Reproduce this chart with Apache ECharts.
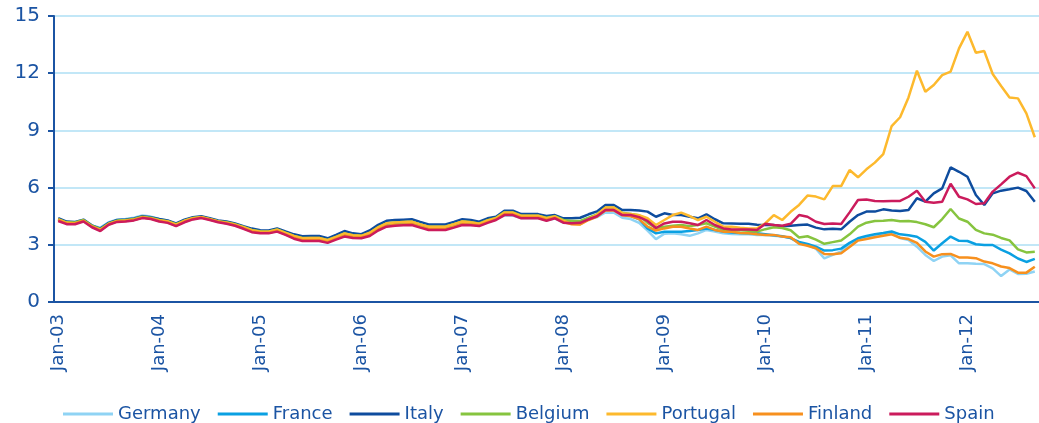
<!DOCTYPE html>
<html>
<head>
<meta charset="utf-8">
<title>10-year government bond yields</title>
<script src="https://cdn.jsdelivr.net/npm/echarts@6.0.0/dist/echarts.min.js"></script>
<style>
html, body { margin: 0; padding: 0; background: #fff; }
#main { width: 1039px; height: 423px; }
</style>
</head>
<body>
<div id="main"></div>
<script>
// monthly data, Jan-03 .. Sep-12
var months = ['Jan', 'Feb', 'Mar', 'Apr', 'May', 'Jun', 'Jul', 'Aug', 'Sep', 'Oct', 'Nov', 'Dec'];
var years = ['03', '04', '05', '06', '07', '08', '09', '10', '11', '12'];
var lastMonth = 9; // Sep-12

var yTicks = [0, 3, 6, 9, 12, 15];

var germany = [
  4.33, 4.15, 4.16, 4.27, 4.00, 3.90, 4.18, 4.32, 4.35, 4.42,
  4.54, 4.48, 4.36, 4.26, 4.08, 4.28, 4.42, 4.46, 4.36, 4.22,
  4.16, 4.05, 3.90, 3.74, 3.66, 3.65, 3.76, 3.60, 3.42, 3.30,
  3.31, 3.30, 3.20, 3.38, 3.55, 3.45, 3.42, 3.57, 3.87, 4.07,
  4.12, 4.13, 4.15, 4.00, 3.88, 3.88, 3.88, 4.00, 4.14, 4.12,
  4.05, 4.22, 4.34, 4.55, 4.53, 4.40, 4.40, 4.40, 4.28, 4.38,
  4.16, 4.14, 4.15, 4.32, 4.45, 4.70, 4.68, 4.42, 4.35, 4.15,
  3.75, 3.30, 3.58, 3.60, 3.55, 3.47, 3.60, 3.78, 3.70, 3.60,
  3.57, 3.55, 3.55, 3.52, 3.52, 3.47, 3.43, 3.35, 3.08, 2.99,
  2.80, 2.29, 2.47, 2.66, 2.99, 3.30, 3.38, 3.45, 3.55, 3.62,
  3.35, 3.25, 2.90, 2.47, 2.15, 2.38, 2.45, 2.03, 2.03, 2.00,
  1.99, 1.76, 1.36, 1.71, 1.47, 1.48, 1.60
];
var france = [
  4.32, 4.15, 4.14, 4.27, 3.97, 3.80, 4.12, 4.26, 4.28, 4.34,
  4.46, 4.41, 4.29, 4.22, 4.05, 4.25, 4.39, 4.45, 4.35, 4.23,
  4.16, 4.06, 3.91, 3.75, 3.68, 3.67, 3.77, 3.61, 3.44, 3.33,
  3.33, 3.33, 3.22, 3.40, 3.58, 3.48, 3.45, 3.60, 3.90, 4.10,
  4.15, 4.17, 4.19, 4.05, 3.93, 3.93, 3.93, 4.05, 4.19, 4.16,
  4.08, 4.26, 4.38, 4.66, 4.66, 4.49, 4.49, 4.49, 4.38, 4.46,
  4.26, 4.22, 4.22, 4.40, 4.55, 4.85, 4.85, 4.58, 4.52, 4.35,
  3.86, 3.60, 3.68, 3.69, 3.69, 3.72, 3.78, 3.86, 3.78, 3.69,
  3.65, 3.62, 3.60, 3.60, 3.55, 3.50, 3.45, 3.35, 3.15, 3.05,
  2.90, 2.70, 2.72, 2.80, 3.10, 3.34, 3.46, 3.55, 3.62, 3.70,
  3.55, 3.50, 3.42, 3.15, 2.70, 3.08, 3.43, 3.21, 3.20, 3.03,
  2.99, 2.99, 2.75, 2.55, 2.28, 2.10, 2.26
];
var italy = [
  4.40, 4.22, 4.20, 4.32, 4.02, 3.85, 4.15, 4.30, 4.33, 4.38,
  4.50, 4.45, 4.35, 4.28, 4.12, 4.32, 4.45, 4.50, 4.40, 4.28,
  4.22, 4.12, 3.98, 3.85, 3.76, 3.75, 3.86, 3.70, 3.55, 3.45,
  3.46, 3.46, 3.34, 3.52, 3.72, 3.60, 3.56, 3.75, 4.05, 4.26,
  4.30, 4.32, 4.34, 4.20, 4.07, 4.07, 4.07, 4.20, 4.34, 4.30,
  4.21, 4.39, 4.47, 4.79, 4.79, 4.61, 4.61, 4.61, 4.51, 4.56,
  4.39, 4.39, 4.42, 4.60, 4.75, 5.09, 5.09, 4.82, 4.82, 4.80,
  4.74, 4.47, 4.65, 4.56, 4.56, 4.47, 4.39, 4.60, 4.34, 4.13,
  4.12, 4.10, 4.10, 4.05, 4.04, 4.04, 3.97, 4.00, 4.04, 4.06,
  3.90, 3.81, 3.84, 3.81, 4.21, 4.56, 4.74, 4.74, 4.86, 4.80,
  4.77, 4.83, 5.44, 5.26, 5.70, 5.96, 7.06, 6.83, 6.57, 5.61,
  5.09, 5.70, 5.84, 5.91, 6.00, 5.82, 5.26
];
var belgium = [
  4.35, 4.18, 4.17, 4.30, 4.00, 3.82, 4.12, 4.27, 4.30, 4.35,
  4.47, 4.42, 4.30, 4.24, 4.08, 4.27, 4.41, 4.46, 4.36, 4.24,
  4.18, 4.08, 3.94, 3.78, 3.71, 3.70, 3.80, 3.64, 3.47, 3.36,
  3.36, 3.36, 3.25, 3.42, 3.60, 3.50, 3.47, 3.62, 3.92, 4.12,
  4.17, 4.19, 4.21, 4.07, 3.95, 3.95, 3.96, 4.08, 4.22, 4.19,
  4.12, 4.29, 4.41, 4.70, 4.70, 4.53, 4.53, 4.53, 4.42, 4.50,
  4.30, 4.25, 4.25, 4.42, 4.60, 4.95, 4.95, 4.68, 4.62, 4.55,
  4.15, 3.88, 3.95, 4.00, 4.04, 3.98, 4.04, 4.13, 3.95, 3.78,
  3.78, 3.76, 3.74, 3.69, 3.82, 3.92, 3.88, 3.76, 3.38, 3.45,
  3.27, 3.05, 3.14, 3.23, 3.55, 3.95, 4.16, 4.25, 4.26, 4.30,
  4.23, 4.25, 4.19, 4.08, 3.92, 4.35, 4.88, 4.38, 4.21, 3.78,
  3.60, 3.53, 3.36, 3.23, 2.76, 2.60, 2.63
];
var portugal = [
  4.33, 4.15, 4.13, 4.25, 3.95, 3.79, 4.09, 4.24, 4.27, 4.31,
  4.43, 4.38, 4.29, 4.22, 4.06, 4.26, 4.39, 4.44, 4.34, 4.22,
  4.16, 4.06, 3.92, 3.77, 3.69, 3.68, 3.79, 3.62, 3.46, 3.35,
  3.36, 3.36, 3.24, 3.42, 3.60, 3.50, 3.47, 3.63, 3.92, 4.13,
  4.17, 4.19, 4.21, 4.07, 3.95, 3.95, 3.95, 4.08, 4.22, 4.18,
  4.10, 4.28, 4.39, 4.69, 4.69, 4.52, 4.52, 4.52, 4.40, 4.48,
  4.26, 4.10, 4.08, 4.35, 4.58, 4.95, 4.95, 4.66, 4.62, 4.55,
  4.39, 4.04, 4.30, 4.56, 4.69, 4.51, 4.30, 4.47, 4.21, 3.95,
  3.95, 3.90, 3.86, 3.86, 4.13, 4.56, 4.30, 4.73, 5.09, 5.58,
  5.53, 5.38, 6.08, 6.08, 6.92, 6.54, 6.96, 7.31, 7.76, 9.23,
  9.69, 10.73, 12.13, 11.03, 11.38, 11.90, 12.08, 13.30, 14.17, 13.07,
  13.16, 11.96, 11.33, 10.73, 10.68, 9.89, 8.64
];
var finland = [
  4.29, 4.12, 4.12, 4.26, 3.96, 3.76, 4.08, 4.23, 4.25, 4.31,
  4.43, 4.38, 4.25, 4.18, 4.00, 4.21, 4.36, 4.43, 4.33, 4.21,
  4.13, 4.03, 3.87, 3.70, 3.63, 3.63, 3.72, 3.55, 3.36, 3.24,
  3.24, 3.24, 3.14, 3.31, 3.47, 3.40, 3.38, 3.50, 3.79, 3.99,
  4.04, 4.06, 4.08, 3.94, 3.82, 3.82, 3.82, 3.94, 4.08, 4.06,
  4.02, 4.19, 4.33, 4.60, 4.60, 4.43, 4.43, 4.43, 4.31, 4.42,
  4.20, 4.08, 4.07, 4.30, 4.48, 4.80, 4.80, 4.55, 4.50, 4.35,
  3.95, 3.75, 3.86, 3.95, 3.95, 3.86, 3.78, 3.95, 3.78, 3.69,
  3.69, 3.62, 3.60, 3.55, 3.52, 3.52, 3.43, 3.39, 3.05, 2.95,
  2.82, 2.52, 2.50, 2.56, 2.88, 3.22, 3.30, 3.40, 3.48, 3.55,
  3.37, 3.30, 3.10, 2.65, 2.38, 2.51, 2.52, 2.34, 2.34, 2.30,
  2.12, 2.03, 1.86, 1.78, 1.54, 1.54, 1.85
];
var spain = [
  4.25, 4.08, 4.08, 4.22, 3.92, 3.72, 4.05, 4.20, 4.22, 4.28,
  4.40, 4.35, 4.22, 4.15, 3.98, 4.18, 4.33, 4.40, 4.30, 4.18,
  4.10, 4.00, 3.84, 3.66, 3.60, 3.60, 3.69, 3.52, 3.32, 3.20,
  3.20, 3.20, 3.10, 3.27, 3.43, 3.36, 3.34, 3.46, 3.75, 3.95,
  4.00, 4.02, 4.04, 3.90, 3.78, 3.78, 3.78, 3.90, 4.04, 4.02,
  3.98, 4.15, 4.30, 4.56, 4.56, 4.39, 4.39, 4.39, 4.26, 4.39,
  4.16, 4.13, 4.15, 4.34, 4.50, 4.82, 4.82, 4.56, 4.56, 4.45,
  4.25, 3.88, 4.12, 4.21, 4.21, 4.13, 4.04, 4.30, 4.04, 3.86,
  3.80, 3.80, 3.80, 3.78, 4.10, 4.04, 4.00, 4.10, 4.56, 4.47,
  4.21, 4.09, 4.12, 4.09, 4.70, 5.35, 5.38, 5.30, 5.28, 5.30,
  5.30, 5.52, 5.84, 5.26, 5.20, 5.26, 6.20, 5.52, 5.38, 5.14,
  5.18, 5.79, 6.17, 6.57, 6.78, 6.60, 5.96
];

var names = ['Germany', 'France', 'Italy', 'Belgium', 'Portugal', 'Finland', 'Spain'];
var colors = ['#8fd3f4', '#0aa0e2', '#0e4c9e', '#86c43f', '#fdb92d', '#f7901e', '#cb1b5c'];
var allData = [germany, france, italy, belgium, portugal, finland, spain];

var categories = [];
for (var y = 0; y < years.length; y++) {
  for (var m = 0; m < 12; m++) {
    if (y == years.length - 1 && m >= lastMonth) break;
    categories.push(months[m] + '-' + years[y]);
  }
}

var blue = '#1b54a3';
var font = 'DejaVu Sans';

var series = names.map(function(name, i) {
  return {
    name: name,
    type: 'line',
    data: allData[i],
    symbol: 'none',
    lineStyle: { width: 2.5, color: colors[i] },
    itemStyle: { color: colors[i] }
  };
});

var myChart = echarts.init(document.getElementById('main'));
var option = {
  animation: false,
  color: colors,
  grid: { left: 54, right: -2, top: 16, bottom: 121 },
  legend: {
    data: names,
    left: 58,
    top: 400,
    icon: 'rect',
    itemWidth: 50,
    itemHeight: 3,
    itemGap: 17,
    textStyle: { fontFamily: font, fontSize: 18, color: blue }
  },
  xAxis: {
    type: 'category',
    boundaryGap: true,
    data: categories,
    axisLine: { lineStyle: { color: blue, width: 2 } },
    axisTick: { interval: 11, length: 6, lineStyle: { color: blue, width: 2 } },
    axisLabel: {
      interval: 11,
      rotate: 90,
      margin: 12,
      fontFamily: font,
      fontSize: 18,
      color: blue
    },
    splitLine: { show: false }
  },
  yAxis: {
    type: 'value',
    min: yTicks[0],
    max: yTicks[yTicks.length - 1],
    interval: 3,
    axisLine: { show: true, lineStyle: { color: blue, width: 2 } },
    axisTick: { show: true, length: 6, lineStyle: { color: blue, width: 2 } },
    axisLabel: { margin: 14, fontFamily: font, fontSize: 20, color: blue },
    splitLine: { lineStyle: { color: '#c2e7f7', width: 2 } }
  },
  series: series
};
myChart.setOption(option, true);
</script>
</body>
</html>
